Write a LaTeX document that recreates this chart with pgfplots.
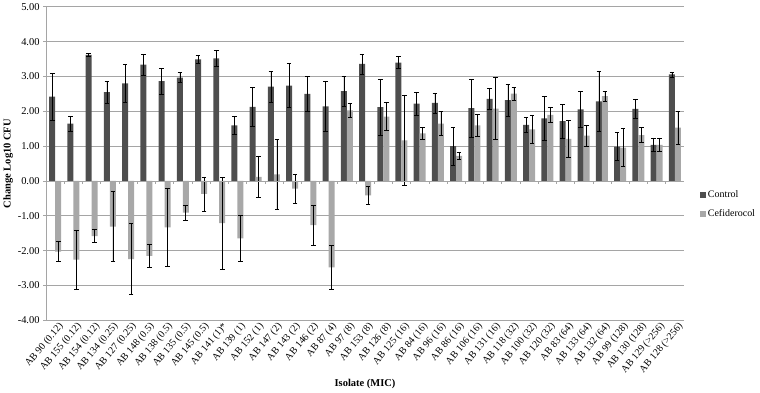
\documentclass[border=0pt]{standalone}
\usepackage{pgfplots}
\pgfplotsset{compat=1.18}
\usepackage{pgfplotstable}
\usepackage{fontspec}
\setmainfont{Liberation Serif}

\definecolor{ctrl}{RGB}{78,78,78}
\definecolor{cefi}{RGB}{168,168,168}
\definecolor{gridc}{RGB}{165,165,165}

% x  control  err  cefiderocol  err
\pgfplotstableread{
x  c     ce    f      fe
0  2.42  0.67  -2.03  0.29
1  1.65  0.21  -2.26  0.84
2  3.62  0.05  -1.58  0.19
3  2.55  0.32  -1.31  1.00
4  2.80  0.55  -2.24  1.02
5  3.34  0.30  -2.15  0.34
6  2.87  0.37  -1.33  1.11
7  2.97  0.15  -0.91  0.21
8  3.49  0.11  -0.37  0.49
9  3.52  0.23  -1.21  1.32
10 1.60  0.26  -1.65  0.66
11 2.13  0.56   0.12  0.60
12 2.71  0.44   0.19  1.00
13 2.74  0.63  -0.22  0.42
14 2.50  0.51  -1.27  0.57
15 2.14  0.72  -2.48  0.63
16 2.58  0.44   2.03  0.21
17 3.36  0.29  -0.41  0.25
18 2.12  0.80   1.85  0.40
19 3.40  0.17   1.17  1.30
20 2.22  0.33   1.37  0.18
21 2.24  0.29   1.65  0.35
22 1.00  0.55   0.72  0.11
23 2.09  0.83   1.60  0.32
24 2.36  0.30   2.08  0.89
25 2.32  0.46   2.51  0.18
26 1.61  0.21   1.48  0.40
27 1.80  0.64   1.90  0.21
28 1.72  0.49   1.21  0.54
29 2.06  0.52   1.30  0.30
30 2.29  0.87   2.44  0.14
31 0.99  0.40   0.96  0.55
32 2.07  0.27   1.32  0.22
33 1.04  0.20   1.04  0.20
34 3.06  0.07   1.53  0.47
}\data

\begin{document}
\begin{tikzpicture}
\begin{axis}[
    scale only axis,
    width=639pt, height=314pt,
    ybar=0pt, bar width=6pt,
    xmin=-0.5, xmax=34.5,
    ymin=-4, ymax=5,
    ytick={-4,-3,...,5},
    axis lines*=left,
    axis line style={gridc, line width=0.8pt},
    ymajorgrids,
    grid style={gridc, line width=0.8pt},
    y tick style={gridc, line width=0.8pt},
    tick align=outside,
    major tick length=3pt,
    x tick style={draw=none},
    xtick=data,
    xticklabels={AB 90 (0.12), AB 155 (0.12), AB 154 (0.12), AB 134 (0.25), AB 127 (0.25), AB 148 (0.5), AB 138 (0.5), AB 135 (0.5), AB 145 (0.5), AB 141 (1)*, AB 139 (1), AB 152 (1), AB 147 (2), AB 143 (2), AB 146 (2), AB 87 (4), AB 97 (8), AB 153 (8), AB 126 (8), AB 125 (16), AB 84 (16), AB 96 (16), AB 86 (16), AB 106 (16), AB 131 (16), AB 118 (32), AB 100 (32), AB 120 (32), AB 83 (64), AB 133 (64), AB 132 (64), AB 99 (128), AB 130 (128), AB 129 (>256), AB 128 (>256)},
    xticklabel style={rotate=50, anchor=north east, font=\fontsize{10}{11}\selectfont, inner sep=1pt, xshift=4pt},
    yticklabel style={font=\fontsize{10.5}{12}\selectfont},
    /pgf/number format/assume math mode=true,
    yticklabel={\pgfmathprintnumber[fixed, fixed zerofill, precision=2]{\tick}},
    xlabel={\textbf{Isolate (MIC)}},
    ylabel={\textbf{Change Log10 CFU}},
    label style={font=\fontsize{10.5}{12}\selectfont},
    xlabel style={yshift=0pt},
    ylabel style={yshift=-2pt},
    legend style={at={(1.02,0.37)}, anchor=west, draw=none, fill=none,
        font=\fontsize{10}{12}\selectfont, row sep=7pt},
    legend image code/.code={\fill[#1] (0pt,-3pt) rectangle (6pt,3pt);},
    legend cell align=left,
    error bars/y dir=both,
    error bars/y explicit,
    error bars/error bar style={black, line width=0.6pt},
    error bars/error mark options={black, rotate=90, mark size=2.3pt, line width=0.6pt},
]
\addplot[fill=ctrl, draw=none] table[x=x, y=c, y error=ce] {\data};
\addplot[fill=cefi, draw=none] table[x=x, y=f, y error=fe] {\data};
\legend{Control, Cefiderocol}
\draw[gridc, line width=0.8pt] (axis cs:-0.5,0) -- (axis cs:34.5,0);
\pgfplotsinvokeforeach{-0.5,0.5,...,34.5}{
  \draw[gridc, line width=0.6pt] (axis cs:#1,0) -- ++(0pt,-3pt);
}
\end{axis}
\end{tikzpicture}
\end{document}
